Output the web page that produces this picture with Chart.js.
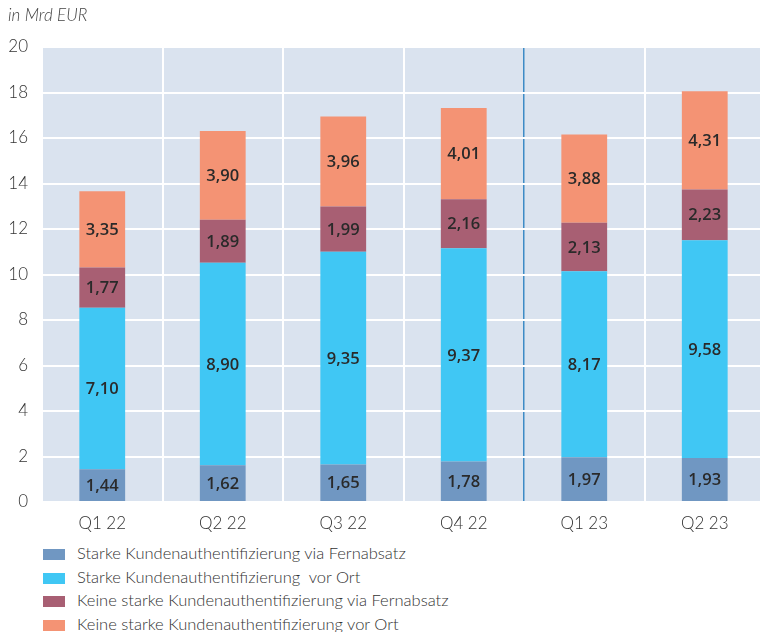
<!DOCTYPE html>
<html>
<head>
<meta charset="utf-8">
<script src="https://cdn.jsdelivr.net/npm/chart.js@4"></script>
<style>
  html, body { margin: 0; padding: 0; background: #fff; overflow: hidden; }
  #wrap { position: relative; width: 760px; height: 632px; overflow: hidden; }
  #unit { position: absolute; left: 8px; top: 4px; font: italic 300 17px Lato, sans-serif; color: #444; }
  #chartBox { position: absolute; left: 0; top: 0; width: 766px; height: 540px; }
  #legend { position: absolute; left: 43px; top: 542px; font: 300 16.5px Lato, sans-serif; color: #333; }
  .item { height: 23.5px; line-height: 23.5px; white-space: pre; }
  .box { display: inline-block; width: 22px; height: 11px; margin-right: 12px; vertical-align: -1px; }
</style>
</head>
<body>
<div id="wrap">
  <div id="chartBox"><canvas id="chart" width="766" height="540"></canvas></div>
  <div id="unit">in Mrd EUR</div>
  <div id="legend"></div>
</div>
<script>
const quarters = ["Q1 22", "Q2 22", "Q3 22", "Q4 22", "Q1 23", "Q2 23"];
const starkFern = [1.44, 1.62, 1.65, 1.78, 1.97, 1.93];
const starkOrt = [7.10, 8.90, 9.35, 9.37, 8.17, 9.58];
const keineFern = [1.77, 1.89, 1.99, 2.16, 2.13, 2.23];
const keineOrt = [3.35, 3.90, 3.96, 4.01, 3.88, 4.31];
const yTicks = [0, 2, 4, 6, 8, 10, 12, 14, 16, 18, 20];

const seriesNames = [
  "Starke Kundenauthentifizierung via Fernabsatz",
  "Starke Kundenauthentifizierung  vor Ort",
  "Keine starke Kundenauthentifizierung via Fernabsatz",
  "Keine starke Kundenauthentifizierung vor Ort"
];
const colors = ["#7097c2", "#40c7f4", "#a85f73", "#f49374"];
const values = [starkFern, starkOrt, keineFern, keineOrt];

const datasets = values.map((v, i) => ({
  label: seriesNames[i],
  data: v,
  backgroundColor: colors[i],
  barPercentage: 0.38,
  categoryPercentage: 1
}));

const legend = document.getElementById("legend");
seriesNames.forEach((name, i) => {
  const d = document.createElement("div");
  d.className = "item";
  d.innerHTML = `<span class="box" style="background:${colors[i]}"></span>`;
  d.appendChild(document.createTextNode(name));
  legend.appendChild(d);
});

const plotBg = {
  id: "plotBg",
  beforeDraw(chart) {
    const { ctx, chartArea: a } = chart;
    ctx.save();
    ctx.fillStyle = "#dae3ef";
    ctx.fillRect(a.left, a.top, a.right - a.left, a.bottom - a.top);
    ctx.restore();
  }
};

const barLabels = {
  id: "barLabels",
  afterDatasetsDraw(chart) {
    const ctx = chart.ctx;
    ctx.save();
    ctx.font = "600 16.5px 'Open Sans', sans-serif";
    ctx.fillStyle = "#2a2a2a";
    ctx.textAlign = "center";
    ctx.textBaseline = "middle";
    chart.data.datasets.forEach((ds, di) => {
      chart.getDatasetMeta(di).data.forEach((bar, i) => {
        const y = (bar.y + bar.base) / 2;
        ctx.fillText(ds.data[i].toFixed(2).replace(".", ","), bar.x, y + 1);
      });
    });
    ctx.restore();
  }
};

new Chart(document.getElementById("chart").getContext("2d"), {
  type: "bar",
  data: { labels: quarters, datasets: datasets },
  plugins: [plotBg, barLabels],
  options: {
    responsive: false,
    animation: false,
    layout: { padding: { top: 47, right: 1, left: 0, bottom: 0 } },
    plugins: { legend: { display: false }, tooltip: { enabled: false } },
    scales: {
      x: {
        stacked: true,
        afterFit(scale) { scale.height = 38; },
        border: { display: false },
        grid: {
          offset: true,
          drawTicks: false,
          color: c => c.index === 4 ? "#3d8bc6" : "#ffffff",
          lineWidth: c => c.index === 4 ? 1.5 : 2
        },
        ticks: { padding: 11, color: "#333", font: { family: "Lato", size: 17, weight: 300 } }
      },
      y: {
        stacked: true,
        min: 0,
        max: 20,
        afterFit(scale) { scale.width = 42; },
        afterBuildTicks(scale) { scale.ticks = yTicks.map(v => ({ value: v })); },
        border: { display: false },
        grid: { drawTicks: false, color: "#ffffff", lineWidth: 2 },
        ticks: { padding: 14, color: "#333", font: { family: "Lato", size: 17, weight: 300 } }
      }
    }
  }
});
</script>
</body>
</html>
